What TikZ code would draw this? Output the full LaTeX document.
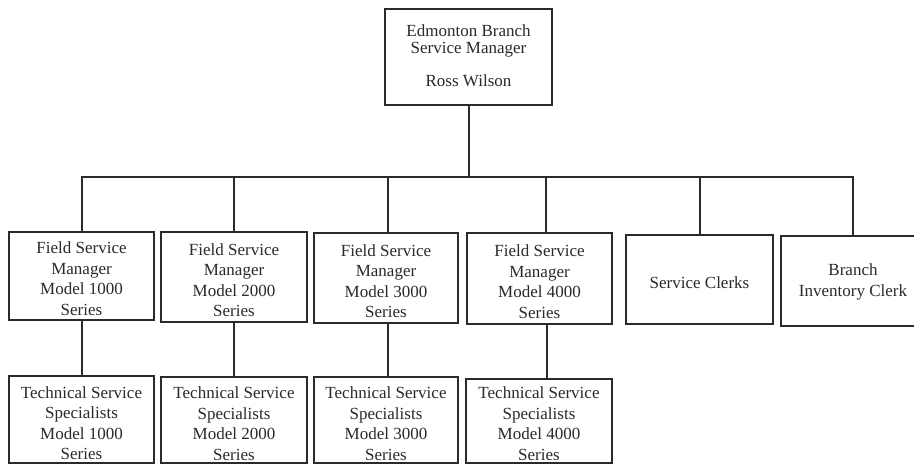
\documentclass[tikz,border=0pt]{standalone}
\usepackage{fontspec}
\setmainfont{Liberation Serif}
\definecolor{ink}{HTML}{2A2A2A}
\newcommand\boxtext[2]{\raisebox{#1}[\height][\depth]{\begin{tabular}{@{}c@{}}#2\end{tabular}}}
\tikzset{
  orgbox/.style={draw=ink, line width=2pt, inner sep=0pt, outer sep=0pt, text=ink,
    font=\fontsize{17}{20.5}\selectfont},
  conn/.style={draw=ink, line width=2pt},
}
\begin{document}
\begin{tikzpicture}[x=1pt,y=-1pt]
\fill[white] (0,0) rectangle (914,466);
\useasboundingbox (0,0) rectangle (914,466);
% top
\node[orgbox, minimum width=167pt, minimum height=96pt, font=\fontsize{17}{16.5}\selectfont] (top) at (468.5,57)
  {\boxtext{-1pt}{Edmonton Branch\\Service Manager\\ \\Ross Wilson}};
% managers
\node[orgbox, minimum width=145pt, minimum height=88pt] (f1) at (81.5,276)
  {\boxtext{-4.5pt}{Field Service\\Manager\\Model 1000\\Series}};
\node[orgbox, minimum width=146pt, minimum height=90pt] (f2) at (234,277)
  {\boxtext{-5pt}{Field Service\\Manager\\Model 2000\\Series}};
\node[orgbox, minimum width=144pt, minimum height=90pt] (f3) at (386,278)
  {\boxtext{-5pt}{Field Service\\Manager\\Model 3000\\Series}};
\node[orgbox, minimum width=145pt, minimum height=91pt] (f4) at (539.5,278.5)
  {\boxtext{-5pt}{Field Service\\Manager\\Model 4000\\Series}};
\node[orgbox, minimum width=147pt, minimum height=89pt] (sc) at (699.5,279.5)
  {\boxtext{-5pt}{Service Clerks}};
\node[orgbox, minimum width=144pt, minimum height=90pt] (bic) at (853,281)
  {\boxtext{-1pt}{Branch\\Inventory Clerk}};
% specialists
\node[orgbox, minimum width=145pt, minimum height=87pt] (t1) at (81.5,419.5)
  {\boxtext{-5.5pt}{Technical Service\\Specialists\\Model 1000\\Series}};
\node[orgbox, minimum width=146pt, minimum height=86pt] (t2) at (234,420)
  {\boxtext{-5.5pt}{Technical Service\\Specialists\\Model 2000\\Series}};
\node[orgbox, minimum width=144pt, minimum height=86pt] (t3) at (386,420)
  {\boxtext{-5.5pt}{Technical Service\\Specialists\\Model 3000\\Series}};
\node[orgbox, minimum width=146pt, minimum height=84pt] (t4) at (539,421)
  {\boxtext{-4.5pt}{Technical Service\\Specialists\\Model 4000\\Series}};
% connectors
\coordinate (j) at (468.5,177);
\draw[conn] (top.south) -- (j);
\draw[conn] (j) -| ([xshift=0.5pt]f1.north);
\draw[conn] (j) -| (f2.north);
\draw[conn] (j) -| ([xshift=2pt]f3.north);
\draw[conn] (j) -| ([xshift=6.5pt]f4.north);
\draw[conn] (j) -| (sc.north);
\draw[conn] (j) -| (bic.north);
\draw[conn] ([xshift=0.5pt]f1.south) -- ([xshift=0.5pt]f1.south |- t1.north);
\draw[conn] (f2.south) -- (f2.south |- t2.north);
\draw[conn] ([xshift=2pt]f3.south) -- ([xshift=2pt]f3.south |- t3.north);
\draw[conn] ([xshift=7pt]f4.south) -- ([xshift=7pt]f4.south |- t4.north);
\end{tikzpicture}
\end{document}
